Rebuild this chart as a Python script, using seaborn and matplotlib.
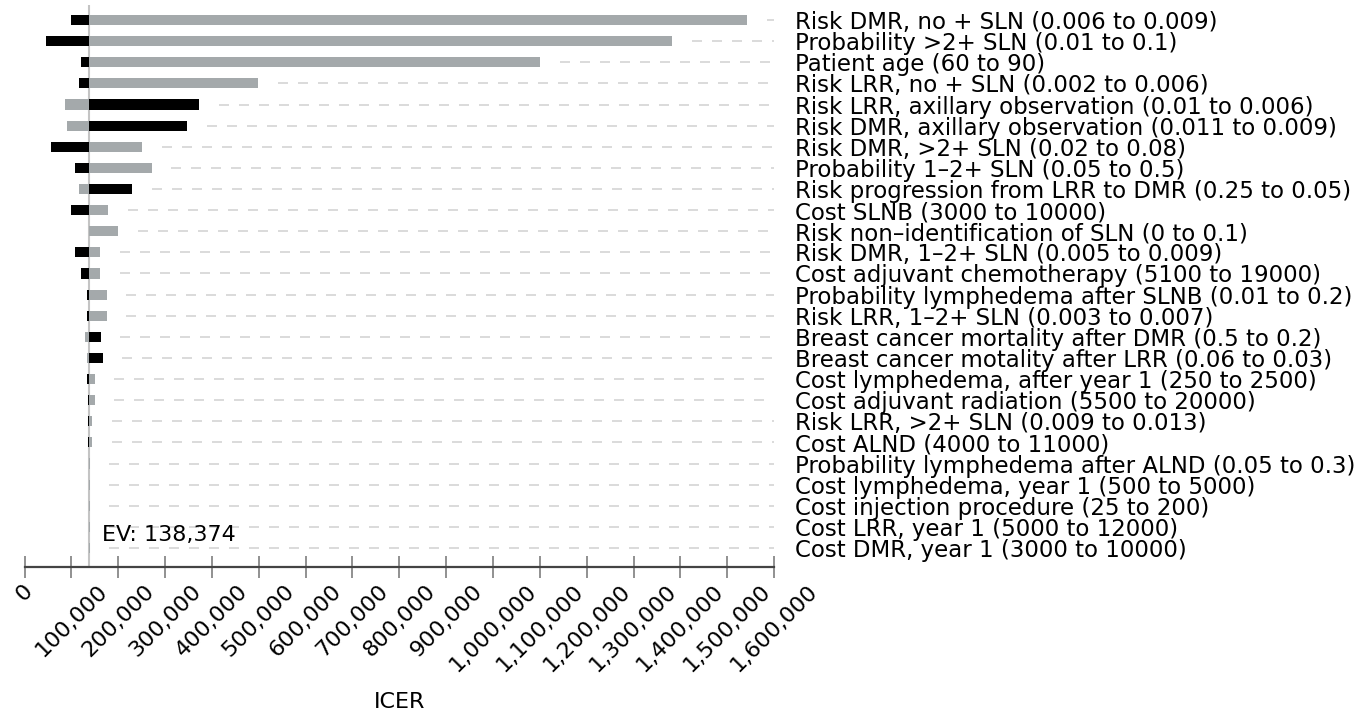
import seaborn as sns
import pandas as pd
import matplotlib
matplotlib.use('Agg')
import matplotlib.pyplot as plt
from matplotlib.ticker import FuncFormatter

sns.set_style("white")
plt.rcParams['font.family'] = ['DejaVu Sans']
plt.rcParams['text.color'] = 'black'
plt.rcParams['xtick.color'] = 'black'
plt.rcParams['ytick.color'] = 'black'
plt.rcParams['axes.labelcolor'] = 'black'

ev = 138374

params = [
    "Risk DMR, no + SLN (0.006 to 0.009)",
    "Probability >2+ SLN (0.01 to 0.1)",
    "Patient age (60 to 90)",
    "Risk LRR, no + SLN (0.002 to 0.006)",
    "Risk LRR, axillary observation (0.01 to 0.006)",
    "Risk DMR, axillary observation (0.011 to 0.009)",
    "Risk DMR, >2+ SLN (0.02 to 0.08)",
    "Probability 1\u20132+ SLN (0.05 to 0.5)",
    "Risk progression from LRR to DMR (0.25 to 0.05)",
    "Cost SLNB (3000 to 10000)",
    "Risk non\u2013identification of SLN (0 to 0.1)",
    "Risk DMR, 1\u20132+ SLN (0.005 to 0.009)",
    "Cost adjuvant chemotherapy (5100 to 19000)",
    "Probability lymphedema after SLNB (0.01 to 0.2)",
    "Risk LRR, 1\u20132+ SLN (0.003 to 0.007)",
    "Breast cancer mortality after DMR (0.5 to 0.2)",
    "Breast cancer motality after LRR (0.06 to 0.03)",
    "Cost lymphedema, after year 1 (250 to 2500)",
    "Cost adjuvant radiation (5500 to 20000)",
    "Risk LRR, >2+ SLN (0.009 to 0.013)",
    "Cost ALND (4000 to 11000)",
    "Probability lymphedema after ALND (0.05 to 0.3)",
    "Cost lymphedema, year 1 (500 to 5000)",
    "Cost injection procedure (25 to 200)",
    "Cost LRR, year 1 (5000 to 12000)",
    "Cost DMR, year 1 (3000 to 10000)",
]

# ICER at one end of the range (grey bars) and at the other end (black bars)
icer_grey = [1542000, 1383000, 1101000, 498500, 86000, 90300, 251000, 271600,
             115900, 178500, 200500, 162000, 162000, 175500, 175500, 128700,
             132300, 150000, 150000, 145000, 144000, 139300, 139300, 139300,
             139300, 139300]
icer_black = [98800, 44800, 120100, 115900, 372600, 347700, 56200, 106700,
              229700, 98800, 137000, 106700, 120100, 132300, 132300, 162800,
              167000, 132300, 136000, 136000, 136500, 137600, 137600, 137600,
              137600, 137600]

xticks = list(range(0, 1600001, 100000))

df = pd.DataFrame({"param": params,
                   "grey": [v - ev for v in icer_grey],
                   "black": [v - ev for v in icer_black]})

fig = plt.figure(figsize=(13.71, 7.19), dpi=100)
ax = fig.add_axes([0.0179, 0.2114, 0.5467, 0.7816])

sns.barplot(data=df, y="param", x="grey", color="#a3aaac", left=ev,
            width=0.48, orient="y", ax=ax, edgecolor="none", zorder=3)
sns.barplot(data=df, y="param", x="black", color="#000000", left=ev,
            width=0.48, orient="y", ax=ax, edgecolor="none", zorder=3)

# dashed guide lines from the end of each row out to the right edge
for i in range(len(params)):
    start = max(icer_grey[i], icer_black[i], ev) + 42000
    ax.plot([start, 1600000], [i, i], color="#d4d4d4", lw=1.2,
            dashes=(6, 6), zorder=1)

ax.axvline(ev, color="#c4c4c4", lw=1.5, zorder=2)
ax.text(166000, 24.4, "EV: 138,374", fontsize=16, va="center", ha="left")

ax.set_xlim(0, 1600000)
ax.set_ylim(25.9, -0.71)
ax.set_xticks(xticks)
ax.xaxis.set_major_formatter(FuncFormatter(lambda v, p: f"{int(v):,}"))
ax.tick_params(axis="x", bottom=True, direction="inout", length=16, width=1.3,
               color="#888888", labelcolor="black", labelsize=16,
               rotation=45, pad=2)
ax.yaxis.tick_right()
ax.tick_params(axis="y", length=0, labelsize=16.5, pad=15, labelcolor="black")
ax.set_ylabel("")
ax.set_xlabel("ICER", fontsize=16, labelpad=12)

for s in ["top", "right", "left"]:
    ax.spines[s].set_visible(False)
ax.spines["bottom"].set_color("#444444")
ax.spines["bottom"].set_linewidth(1.6)

fig.savefig("out.png", dpi=100)
